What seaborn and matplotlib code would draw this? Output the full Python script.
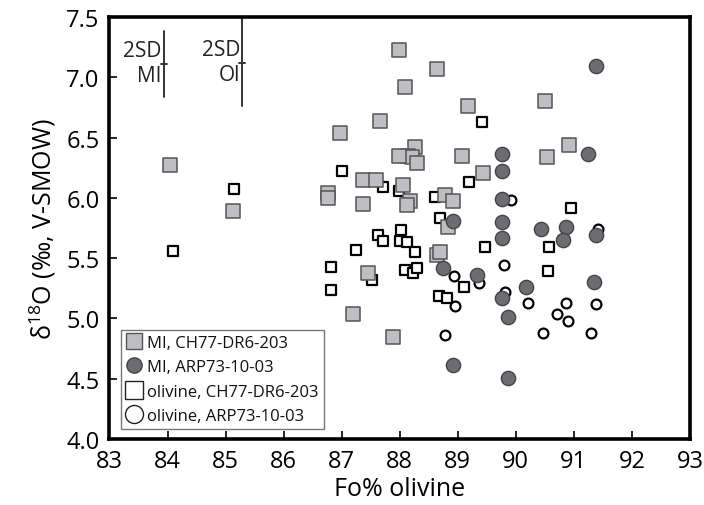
import matplotlib
matplotlib.use("Agg")
import matplotlib.pyplot as plt
from matplotlib.lines import Line2D
import seaborn as sns

# Fo% olivine / d18O values
mi_ch77_fo = [84.04, 85.12, 86.97, 87.99, 88.65, 88.09, 89.18, 87.66, 88.26, 88.15,
              88.22, 88.29, 87.99, 89.08, 89.44, 87.36, 87.59, 88.05, 86.77, 86.77,
              87.36, 88.18, 88.13, 88.78, 88.91, 88.84, 88.65, 88.69, 87.46, 87.20,
              87.89, 90.50, 90.92, 90.53]
mi_ch77_d18o = [6.27, 5.89, 6.54, 7.23, 7.07, 6.92, 6.76, 6.64, 6.42, 6.35,
                6.34, 6.29, 6.35, 6.35, 6.21, 6.15, 6.15, 6.11, 6.04, 6.00,
                5.95, 5.97, 5.94, 6.02, 5.97, 5.76, 5.53, 5.55, 5.38, 5.04,
                4.85, 6.80, 6.44, 6.34]

mi_arp_fo = [91.38, 91.25, 89.77, 89.77, 89.77, 88.91, 89.77, 89.77, 90.43, 90.86,
             90.82, 91.38, 88.75, 89.34, 90.17, 91.35, 89.77, 89.87, 88.91, 89.87]
mi_arp_d18o = [7.09, 6.36, 6.36, 6.22, 5.99, 5.81, 5.80, 5.67, 5.74, 5.76,
               5.65, 5.69, 5.42, 5.36, 5.26, 5.30, 5.17, 5.01, 4.61, 4.51]

ol_ch77_fo = [85.15, 84.09, 87.01, 89.41, 89.19, 87.71, 87.99, 88.61, 88.69, 89.47,
              90.95, 90.58, 90.55, 87.63, 87.71, 87.25, 88.03, 88.00, 88.12, 88.26,
              86.81, 88.09, 88.23, 88.30, 86.81, 87.52, 89.11, 88.68, 88.81]
ol_ch77_d18o = [6.07, 5.56, 6.22, 6.63, 6.13, 6.09, 6.06, 6.01, 5.83, 5.59,
                5.92, 5.59, 5.39, 5.69, 5.64, 5.57, 5.73, 5.64, 5.63, 5.55,
                5.43, 5.40, 5.38, 5.42, 5.24, 5.32, 5.26, 5.19, 5.17]

ol_arp_fo = [89.91, 89.80, 88.93, 89.37, 88.95, 88.78, 89.81, 91.42, 90.21, 90.86,
             90.71, 90.90, 91.38, 90.47, 91.29]
ol_arp_d18o = [5.98, 5.44, 5.35, 5.29, 5.10, 4.86, 5.22, 5.74, 5.13, 5.13,
               5.04, 4.98, 5.12, 4.88, 4.88]

# 2SD error bars (x position, centre, half-length)
sd_labels = ["2SD\nMI", "2SD\nOl"]
sd_x = [83.94, 85.29]
sd_y = [7.11, 7.12]
sd_half = [0.27, 0.36]

legend_labels = ["MI, CH77-DR6-203", "MI, ARP73-10-03",
                 "olivine, CH77-DR6-203", "olivine, ARP73-10-03"]

sns.set_theme(style="ticks")
plt.rcParams["font.family"] = ["Open Sans", "DejaVu Sans"]
plt.rcParams["mathtext.fontset"] = "custom"
plt.rcParams["mathtext.rm"] = "Open Sans"
plt.rcParams["text.color"] = "black"
plt.rcParams["axes.labelcolor"] = "black"

fig, ax = plt.subplots(figsize=(7.04, 5.06), dpi=100)
fig.subplots_adjust(left=0.1555, right=0.980, top=0.9644, bottom=0.1304)

grey_fill = "#bebec4"
dark_fill = "#6c6c72"

sns.scatterplot(x=ol_ch77_fo, y=ol_ch77_d18o, ax=ax, marker="s", s=58,
                facecolor="white", edgecolor="black", linewidth=1.6, zorder=3)
sns.scatterplot(x=ol_arp_fo, y=ol_arp_d18o, ax=ax, marker="o", s=50,
                facecolor="white", edgecolor="black", linewidth=1.6, zorder=3)
sns.scatterplot(x=mi_ch77_fo, y=mi_ch77_d18o, ax=ax, marker="s", s=100,
                facecolor=grey_fill, edgecolor="#555555", linewidth=1.1, zorder=4)
sns.scatterplot(x=mi_arp_fo, y=mi_arp_d18o, ax=ax, marker="o", s=105,
                facecolor=dark_fill, edgecolor="#444444", linewidth=1.0, zorder=5)

# 2SD bars
for lab, x, y, h in zip(sd_labels, sd_x, sd_y, sd_half):
    ax.plot([x, x], [y - h, y + h], color="#333333", lw=1.4, zorder=2)
    ax.plot([x - 0.05, x + 0.05], [y, y], color="#333333", lw=1.4, zorder=2)
    ax.text(x - 0.04, y + 0.01, lab, ha="right", va="center", fontsize=15,
            color="#222222", linespacing=1.25)

ax.set_xlim(83, 93)
ax.set_ylim(4.0, 7.5)
ax.set_xticks(range(83, 94))
ax.set_yticks([4.0, 4.5, 5.0, 5.5, 6.0, 6.5, 7.0, 7.5])
ax.set_yticklabels(["4.0", "4.5", "5.0", "5.5", "6.0", "6.5", "7.0", "7.5"])
ax.tick_params(direction="in", length=6, width=1.2, labelsize=17, colors="black",
               labelcolor="black", pad=7)
for sp in ax.spines.values():
    sp.set_linewidth(2.6)
    sp.set_color("black")

ax.set_xlabel("Fo% olivine", fontsize=18, labelpad=2, color="black")
ax.set_ylabel("δ$^{18}$O (‰, V-SMOW)", fontsize=18, labelpad=6, color="black")

handles = [
    Line2D([], [], ls="", marker="s", ms=11, mfc=grey_fill, mec="#555555", mew=1.0),
    Line2D([], [], ls="", marker="o", ms=11, mfc=dark_fill, mec="#444444", mew=1.0),
    Line2D([], [], ls="", marker="s", ms=13, mfc="white", mec="#222222", mew=1.0),
    Line2D([], [], ls="", marker="o", ms=13, mfc="white", mec="#222222", mew=1.0),
]
leg = ax.legend(handles, legend_labels, loc="lower left", bbox_to_anchor=(0.019, 0.024),
                borderaxespad=0, fontsize=12, frameon=True, fancybox=False,
                handletextpad=0.3, handlelength=1.0, labelspacing=0.5,
                borderpad=0.3, edgecolor="#555555")
leg.get_frame().set_linewidth(1.0)
leg.set_zorder(6)
for t in leg.get_texts():
    t.set_color("#111111")

fig.savefig("out.png", dpi=100)
